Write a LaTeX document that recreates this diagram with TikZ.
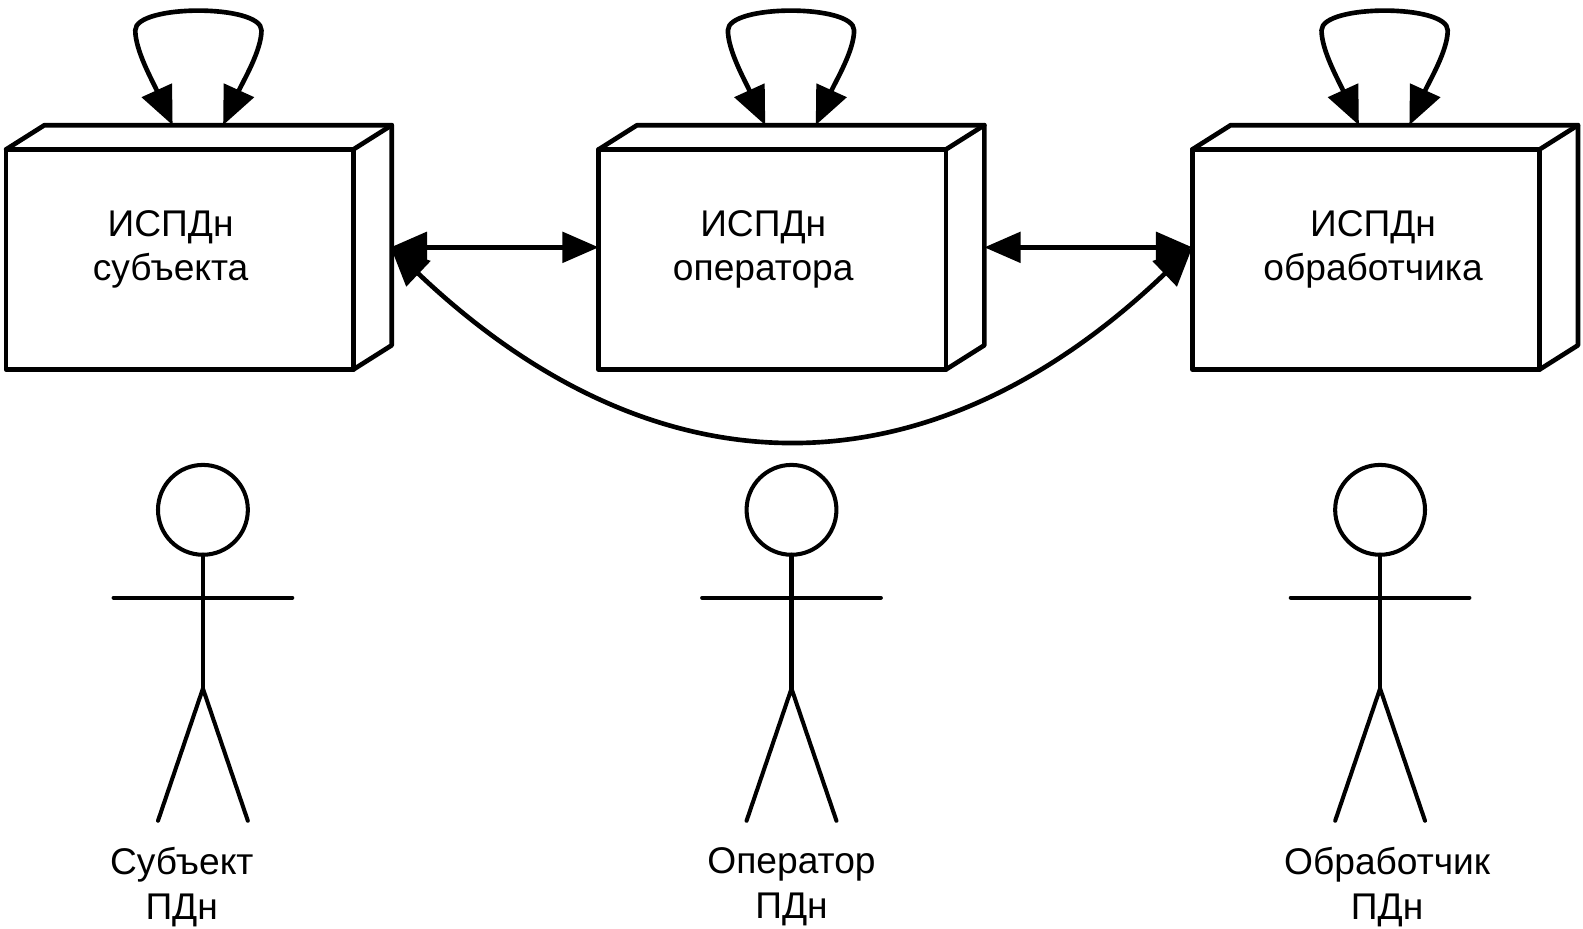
\documentclass[tikz,border=0pt]{standalone}
\usepackage{fontspec}
\setmainfont{Liberation Sans}
\usetikzlibrary{arrows.meta,calc}
\tikzset{
  ln/.style={line width=2.3pt,line join=round,line cap=round},
  thin ln/.style={line width=2pt,line join=round,line cap=round},
  frontbox/.style={draw,ln,rectangle,minimum width=172pt,minimum height=109pt,inner sep=0pt,outer sep=0pt},
  lbl/.style={font=\fontsize{18.4pt}{22pt}\selectfont,align=center,inner sep=0pt,text depth=0pt},
  head/.style={draw,thin ln,circle,minimum size=44.5pt,inner sep=0pt,outer sep=0pt},
  both small/.style={{Triangle[length=18pt,width=15pt]}-{Triangle[length=18pt,width=15pt]}},
  both big/.style={{Triangle[length=19pt,width=17pt]}-{Triangle[length=19pt,width=17pt]}},
  both loop/.style={{Triangle[length=19pt,width=16pt]}-{Triangle[length=19pt,width=16pt]}},
}
\newcommand{\isbox}[4]{% name, left x, text x, text
  \node[frontbox,anchor=north west] (#1) at (#2,148) {};
  \draw[ln] (#1.north west) -- ++(38,-24) -- ++(344,0) -- ++(0,218) -- (#1.south east);
  \draw[ln] (#1.north east) -- ++(38,-24);
  \node[lbl] (#1t) at (#3,243) {#4};
}
\newcommand{\selfloop}[2]{% name, left x
  \coordinate (#1a) at (#2+215,124);
  \coordinate (#1b) at (#2+165,124);
  \draw[ln,both loop] (#1a) .. controls (#2+235,80) and (#2+253,50) .. (#2+253,30)
     .. controls (#2+253,4) and (#2+128,4) .. (#2+128,30)
     .. controls (#2+128,50) and (#2+145,80) .. (#1b);
}
\newcommand{\actor}[4]{% name, x, label x, label
  \node[head] (#1h) at (#2,505) {};
  \coordinate (#1w) at (#2,682);
  \coordinate (#1l) at (#2-44.5,813);
  \coordinate (#1r) at (#2+44.5,813);
  \coordinate (#1al) at (#2-88.5,592);
  \coordinate (#1ar) at (#2+88.5,592);
  \draw[thin ln] (#1h.south) -- (#1w);
  \draw[thin ln] (#1al) -- (#1ar);
  \draw[thin ln] (#1l) -- (#1w) -- (#1r);
  \node[lbl] (#1n) at (#3,875) {#4\\[0.2pt]ПДн};
}
\begin{document}
\begin{tikzpicture}[x=0.5pt,y=-0.5pt]
\useasboundingbox (0,0) rectangle (1568,920);
\isbox{a}{6}{169}{ИСПДн\\субъекта}
\isbox{b}{593}{756}{ИСПДн\\оператора}
\isbox{c}{1181}{1360}{ИСПДн\\обработчика}
\selfloop{la}{6}
\selfloop{lb}{593}
\selfloop{lc}{1181}
\coordinate (ar) at (387,245);
\coordinate (br) at (975,245);
\draw[ln,both small] (ar) -- (b.west |- ar);
\draw[ln,both small] (br) -- (c.west |- br);
\draw[ln,both big] (ar) .. controls (650,495) and (920,495) .. (c.west |- br);
\actor{p}{201}{180}{Субъект}
\actor{q}{784}{784}{Оператор}
\actor{r}{1367}{1374}{Обработчик}
\end{tikzpicture}
\end{document}
